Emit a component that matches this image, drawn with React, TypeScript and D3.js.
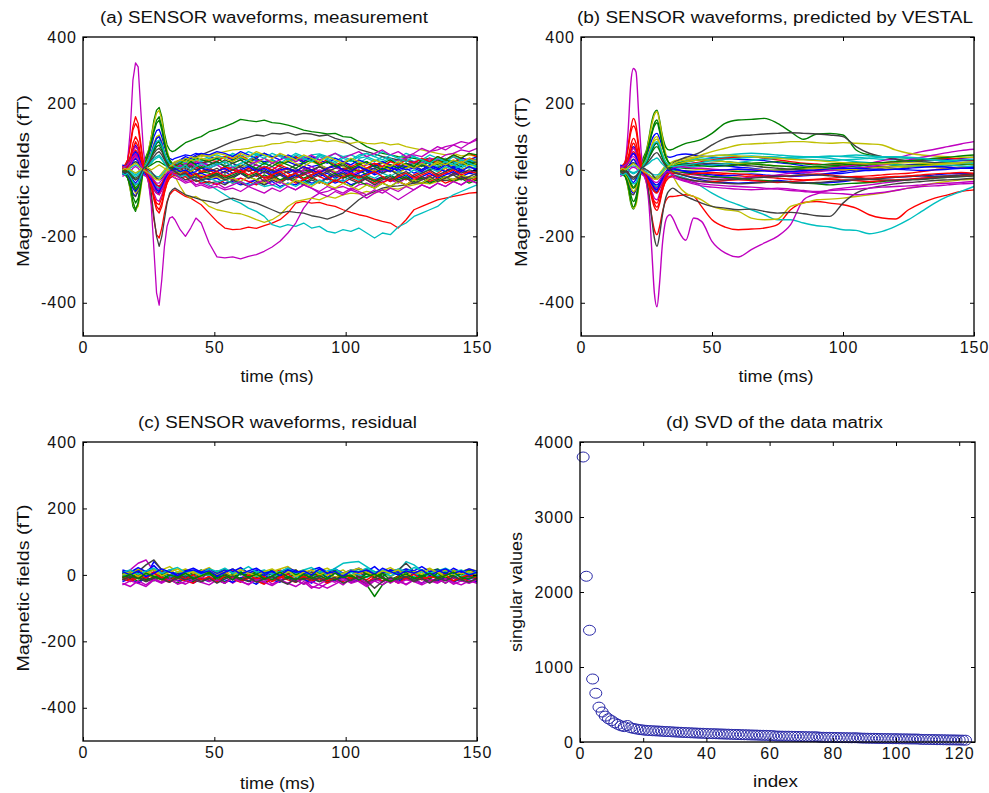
import React, { useEffect, useRef } from 'react';
import * as d3 from 'd3';

const FONT = '"Liberation Sans", Arial, Helvetica, sans-serif';
// MATLAB default colour order, cycled over the sensor channels
const lineColors = ['#0000ff', '#008000', '#ff0000', '#00bfbf', '#bf00bf', '#bfbf00', '#404040'];

// sample times (ms)
const timeMeasured = [15, 16, 17, 18, 19, 20, 21, 22, 23, 24, 25, 26, 27, 28, 29, 30, 31, 32, 33, 34, 35,
  37, 39, 41, 43, 45,
  48, 51, 54, 57, 60, 63, 66, 69, 72, 75, 78, 81, 84, 87, 90, 93, 96, 99, 102, 105, 108, 111, 114, 117,
  120, 123, 126, 129, 132, 135, 138, 141, 144, 147, 150];
const timePredicted = [15, 16, 17, 18, 19, 20, 21, 22, 23, 24, 25, 26, 27, 28, 29, 30, 31, 32, 33, 34, 35,
  37, 40, 43, 46, 50, 55, 60, 65, 70, 75, 80, 85, 90, 95, 100, 105, 110, 115, 120, 125, 130, 135, 140, 145, 150];
const timeResidual = [15, 18, 21, 24, 27, 30, 33, 36, 39, 42, 45, 48, 51, 54, 57, 60, 63, 66, 69, 72, 75, 78,
  81, 84, 87, 90, 93, 96, 99, 102, 105, 108, 111, 114, 117, 120, 123, 126, 129, 132, 135, 138, 141, 144, 147, 150];

// (a) measured sensor waveforms (fT), one row per channel
const measuredTraces: number[][] = [
  [0, -5, -15, -40, -70, -80, -65, -30, 0, 20, 40, 70, 100, 118, 122, 100, 70, 45, 35, 30, 35, 40, 45, 42, 50, 45, 40, 35, 40, 30, 35, 28, 30, 25, 30, 20, 25, 15, 20, 10, 15, 5, 10, 0, 5, -5, 0, 5, 10, 5, 15, 10, 20, 15, 25, 20, 30, 25, 35, 30, 40],
  [5, 0, -20, -60, -110, -125, -100, -40, 20, 40, 60, 100, 150, 180, 188, 160, 110, 75, 60, 55, 58, 70, 82, 88, 95, 100, 115, 122, 130, 140, 152, 148, 145, 150, 142, 140, 135, 128, 120, 115, 112, 108, 110, 100, 98, 85, 70, 60, 50, 45, 40, 38, 35, 30, 35, 28, 30, 25, 30, 22, 25],
  [0, 5, 30, 80, 130, 160, 140, 80, 20, -10, -40, -90, -150, -195, -205, -175, -130, -95, -75, -65, -60, -70, -80, -85, -95, -105, -130, -155, -175, -180, -178, -172, -176, -168, -160, -150, -130, -100, -95, -100, -98, -105, -110, -120, -128, -135, -140, -148, -155, -160, -175, -150, -120, -110, -100, -90, -85, -80, -75, -70, -68],
  [-5, -10, 0, 10, 20, 25, 20, 5, -5, -10, -20, -30, -40, -50, -55, -50, -40, -30, -20, -15, -10, -15, -20, -25, -30, -35, -45, -60, -75, -90, -100, -115, -125, -140, -165, -172, -165, -170, -160, -175, -170, -185, -190, -180, -185, -175, -190, -205, -190, -195, -172, -160, -140, -130, -120, -110, -90, -75, -65, -55, -45],
  [0, 5, 30, 120, 270, 322, 310, 180, 60, -10, -40, -110, -240, -370, -407, -330, -230, -170, -145, -141, -150, -180, -200, -175, -145, -160, -220, -262, -265, -262, -268, -260, -255, -245, -232, -215, -190, -160, -115, -85, -70, -65, -55, -50, -60, -45, -40, -50, -35, -30, -40, -25, -20, -30, -15, -20, -10, -15, -5, -10, -5],
  [-10, -5, -20, -60, -100, -120, -110, -60, 0, 30, 60, 100, 140, 170, 180, 150, 100, 60, 30, 10, -20, -50, -75, -85, -80, -90, -110, -120, -125, -130, -132, -140, -150, -158, -150, -135, -110, -95, -90, -85, -90, -80, -85, -75, -70, -72, -65, -70, -60, -55, -58, -50, -45, -40, -42, -35, -30, -35, -28, -25, -30],
  [-5, -10, -25, -50, -75, -80, -60, -20, 10, 5, -20, -70, -140, -200, -230, -200, -150, -100, -70, -60, -55, -65, -75, -80, -85, -90, -95, -100, -90, -85, -92, -95, -100, -110, -120, -130, -125, -128, -130, -138, -142, -148, -140, -130, -110, -90, -75, -65, -55, -50, -48, -45, -40, -38, -35, -30, -32, -28, -25, -22, -25],
  [5, 8, 15, 35, 60, 75, 62, 30, 5, -5, -15, -30, -50, -65, -70, -55, -35, -15, 0, 10, 15, 20, 15, 25, 18, 22, 15, 25, 10, 20, 5, 15, 0, 10, -5, 5, -10, 0, -15, -5, -20, -10, -25, -15, -5, -20, -10, 0, -10, 5, 0, 10, 5, 15, 10, 20, 15, 25, 20, 30, 25],
  [-5, -10, -20, -50, -95, -120, -100, -50, 0, 30, 55, 85, 120, 150, 160, 130, 85, 50, 30, 20, 15, 10, 5, 15, 0, 10, 5, -5, 10, 0, -10, 5, -5, 0, -15, -5, 5, -10, 0, -5, 10, 0, -10, 5, -5, 0, -15, -5, 5, 15, 5, 20, 10, 0, 15, 5, 20, 10, 25, 15, 20],
  [10, 15, 30, 70, 120, 140, 125, 70, 20, 0, -20, -50, -90, -120, -130, -110, -70, -40, -20, -10, -5, 0, 10, -5, 5, -10, 0, -15, -5, 10, -10, 0, -20, -5, -15, 5, -10, -25, -15, -5, -20, -30, -15, -25, -10, -20, -30, -40, -25, -35, -20, -30, -15, -5, -20, -10, 5, -10, 0, 10, 0],
  [-10, -5, 0, 5, 10, 15, 10, 5, 0, -5, -10, -15, -20, -25, -25, -20, -10, 0, 5, 10, 10, 15, 25, 20, 30, 25, 35, 30, 40, 45, 35, 40, 50, 42, 38, 45, 35, 40, 30, 45, 48, 40, 35, 25, 30, 20, 35, 25, 40, 30, 20, 35, 25, 15, 30, 20, 35, 25, 15, 30, 20],
  [0, 5, 10, 20, 40, 50, 40, 15, 0, -10, -25, -45, -70, -90, -95, -75, -50, -30, -15, -5, 0, -10, -5, -15, -10, -20, -15, -25, -20, -30, -25, -35, -30, -20, -25, -15, -20, -10, -5, -15, 0, -5, 5, 0, 10, 5, 15, 20, 10, 25, 30, 35, 45, 40, 55, 60, 70, 75, 85, 80, 95],
  [0, 5, 10, 20, 30, 35, 30, 10, -5, -10, -15, -20, -25, -25, -20, -10, 0, 10, 15, 20, 25, 30, 35, 30, 38, 40, 45, 50, 55, 60, 62, 65, 70, 72, 78, 80, 85, 82, 88, 85, 90, 85, 88, 82, 80, 85, 80, 78, 82, 75, 78, 70, 65, 60, 55, 50, 45, 50, 42, 45, 40],
  [5, 10, 20, 40, 60, 70, 60, 30, 5, -10, -20, -40, -60, -70, -72, -60, -40, -20, 0, 10, 20, 25, 30, 35, 40, 45, 55, 65, 75, 85, 92, 98, 105, 102, 110, 108, 112, 105, 110, 108, 102, 105, 95, 88, 75, 62, 55, 48, 40, 35, 30, 28, 25, 30, 22, 25, 20, 28, 22, 25, 20],
  [-15, -10, -5, -15, -30, -40, -30, -10, 5, 15, 25, 40, 60, 80, 85, 70, 45, 25, 15, 10, 5, -5, -15, -10, -25, -20, -30, -25, -40, -35, -45, -40, -30, -45, -35, -50, -40, -45, -30, -40, -35, -25, -40, -30, -45, -35, -25, -30, -20, -35, -25, -15, -30, -20, -10, -25, -15, -5, -20, -10, -15],
  [10, 5, 0, -20, -40, -55, -45, -20, 0, 15, 25, 40, 55, 70, 75, 60, 40, 20, 10, 5, 0, -5, -10, 0, -15, -5, -10, -20, -15, -25, -10, -20, -30, -15, -25, -35, -20, -30, -40, -25, -35, -45, -30, -40, -50, -35, -45, -55, -40, -50, -35, -45, -30, -40, -25, -35, -20, -30, -15, -25, -20],
  [-5, 0, 10, 25, 50, 60, 50, 20, 0, -10, -20, -35, -55, -70, -75, -60, -40, -25, -15, -10, -5, 5, 15, 10, 25, 20, 30, 25, 40, 35, 45, 30, 40, 50, 35, 45, 30, 40, 25, 35, 20, 30, 15, 25, 10, 20, 5, 15, 25, 10, 20, 30, 15, 25, 35, 20, 30, 40, 25, 35, 30],
  [5, 10, 5, 0, -10, -15, -10, 0, 5, 0, -5, -10, -15, -20, -20, -15, -5, 5, 10, 15, 20, 25, 20, 30, 35, 30, 40, 45, 35, 50, 40, 55, 45, 50, 40, 45, 35, 50, 40, 30, 45, 35, 25, 40, 30, 45, 50, 40, 55, 45, 35, 50, 40, 30, 45, 35, 25, 40, 30, 20, 35],
  [-20, -15, -10, -5, 5, 10, 5, -5, -15, -20, -25, -35, -50, -60, -65, -55, -40, -30, -25, -20, -25, -30, -40, -35, -50, -45, -55, -50, -60, -55, -65, -50, -60, -70, -55, -65, -50, -60, -45, -55, -65, -50, -60, -70, -55, -65, -75, -60, -70, -55, -65, -50, -60, -45, -55, -40, -50, -35, -45, -30, -40],
  [0, -5, -10, -25, -50, -60, -50, -20, 5, 15, 30, 50, 75, 95, 100, 80, 50, 25, 10, 0, -5, -10, 0, -5, 5, -5, 5, -5, 10, 0, 15, 5, -5, 10, 0, -10, 5, -5, 10, 0, -10, 5, -5, -15, 0, -10, 5, -5, 10, 0, -10, 5, 15, 0, 10, -5, 5, 15, 0, 10, 5],
  [5, 0, 5, 10, 20, 25, 20, 5, -5, -10, -20, -30, -45, -55, -60, -45, -30, -15, -5, 0, 5, 10, 5, 15, 10, 20, 25, 15, 30, 20, 10, 25, 15, 5, 20, 10, 0, 15, 5, -5, 10, 0, -10, 5, -5, 10, 0, 15, 5, -5, 10, 20, 5, 15, 0, 10, 20, 5, 15, 25, 10],
  [15, 10, 5, 10, 25, 35, 25, 5, -10, -15, -20, -25, -35, -45, -50, -40, -25, -10, 0, 5, 10, 0, -10, -5, -15, -10, -20, -15, -5, -20, -10, -25, -15, -5, -20, -10, -25, -15, -30, -20, -10, -25, -15, -5, -20, -10, 0, -15, -5, 10, -5, 5, -10, 0, 15, 5, -5, 10, 0, -10, 5],
  [-10, -15, -25, -45, -80, -100, -85, -40, 0, 25, 50, 80, 115, 140, 150, 120, 80, 45, 25, 15, 10, 20, 30, 25, 35, 30, 25, 35, 20, 30, 40, 25, 35, 20, 30, 15, 25, 35, 20, 30, 15, 25, 10, 20, 30, 15, 25, 10, 20, 30, 15, 5, 20, 10, 25, 15, 30, 20, 10, 25, 15],
  [0, 5, 15, 40, 80, 100, 85, 45, 10, -5, -20, -45, -80, -110, -120, -100, -65, -40, -25, -20, -15, -25, -20, -35, -30, -40, -35, -45, -30, -40, -25, -35, -45, -30, -20, -35, -25, -40, -30, -20, -35, -45, -30, -40, -25, -35, -20, -30, -40, -25, -35, -45, -30, -20, -35, -25, -40, -30, -20, -35, -25],
  [-5, 0, 5, 0, -5, -10, -5, 0, 5, 10, 15, 20, 30, 35, 40, 30, 20, 10, 5, 0, -5, 5, 10, 0, 15, 5, 10, 20, 15, 5, 20, 10, 25, 15, 30, 20, 35, 25, 40, 30, 45, 35, 50, 40, 45, 35, 40, 30, 25, 35, 20, 30, 15, 25, 20, 10, 25, 15, 5, 20, 10],
  [10, 5, 15, 30, 55, 70, 60, 30, 5, -5, -15, -30, -45, -55, -60, -50, -30, -15, -5, 0, 5, 15, 10, 20, 5, 15, 5, 15, 0, 10, -5, 5, 15, 0, 10, -5, 5, -10, 0, 10, -5, 5, -10, 0, -15, -5, 5, -10, 0, -5, 10, 15, 25, 20, 35, 30, 45, 50, 60, 55, 65],
  [-10, -5, -15, -30, -55, -70, -60, -25, 5, 20, 35, 55, 80, 100, 105, 85, 55, 30, 15, 10, 10, 20, 15, 30, 25, 35, 30, 40, 35, 25, 40, 30, 20, 35, 25, 15, 30, 20, 10, 25, 15, 5, 20, 10, 0, 15, 5, -5, 10, 0, -10, 5, 15, 0, 10, 20, 5, 15, 25, 10, 20],
  [0, -5, 0, -10, -20, -25, -20, -10, 0, 5, 0, -5, -15, -25, -30, -25, -15, -10, -5, -10, -15, -20, -30, -25, -35, -30, -40, -35, -45, -30, -40, -50, -35, -45, -30, -40, -25, -35, -45, -30, -40, -25, -35, -20, -30, -40, -25, -35, -20, -30, -15, -25, -35, -20, -30, -15, -25, -10, -20, -30, -15],
  [-5, -10, -15, -30, -55, -65, -55, -25, 0, 15, 30, 50, 75, 95, 100, 80, 50, 30, 20, 15, 20, 30, 40, 35, 45, 50, 45, 55, 50, 40, 55, 45, 35, 50, 40, 30, 45, 35, 25, 40, 30, 20, 35, 25, 15, 30, 20, 10, 25, 15, 5, 20, 10, 0, 15, 5, -5, 10, 0, -10, 5],
  [5, 0, -5, -10, -20, -30, -25, -10, 0, 5, 10, 15, 20, 25, 25, 20, 15, 10, 5, 0, -5, -15, -10, -20, -15, -25, -20, -10, -25, -15, -5, -20, -10, -25, -15, -30, -20, -10, -25, -15, -5, -20, -10, -25, -15, -30, -20, -35, -25, -15, -30, -20, -35, -25, -40, -30, -20, -35, -25, -40, -30],
  [10, 5, 10, 20, 35, 45, 40, 20, 5, 0, -10, -20, -35, -45, -50, -40, -25, -10, 0, 10, 15, 5, 15, 0, 10, -5, 5, -5, 10, 0, -10, 5, -5, 10, 0, 15, 5, -5, 10, 0, -10, 5, 15, 0, 10, -5, 5, 20, 10, 25, 15, 30, 20, 35, 25, 40, 30, 45, 35, 50, 40],
  [0, 5, 0, -5, -15, -20, -15, -5, 5, 10, 15, 25, 35, 40, 45, 35, 20, 10, 0, -5, -10, -20, -15, -25, -20, -30, -25, -35, -30, -40, -35, -45, -40, -50, -45, -55, -40, -50, -35, -45, -30, -40, -25, -35, -20, -30, -15, -25, -10, -20, -5, -15, 0, -10, 5, -5, 10, 0, 15, 5, 10],
  [-5, 0, 5, 15, 30, 40, 35, 15, 0, -10, -20, -35, -55, -70, -75, -60, -40, -20, -10, -5, 0, 10, 20, 15, 25, 20, 15, 25, 10, 20, 30, 15, 25, 35, 20, 30, 40, 25, 35, 45, 30, 40, 50, 35, 45, 55, 40, 50, 60, 45, 55, 40, 50, 65, 55, 70, 60, 75, 65, 80, 90],
  [5, 10, 5, 0, -5, -10, -5, 0, 5, 10, 5, 0, 5, 10, 15, 10, 5, 0, -5, 0, 5, 0, -10, -5, -20, -15, -25, -20, -30, -25, -35, -20, -30, -40, -25, -35, -45, -30, -40, -50, -35, -45, -55, -40, -50, -60, -45, -55, -40, -50, -35, -45, -30, -40, -25, -35, -20, -30, -15, -25, -20],
  [-10, -5, -10, -20, -35, -45, -40, -20, 0, 10, 20, 35, 50, 60, 65, 55, 35, 20, 10, 5, 0, 5, -5, 10, 0, 5, -5, 5, -10, 0, 10, -5, 5, -10, 0, -15, -5, 5, -10, 0, 10, -5, 5, 15, 0, 10, -5, 5, -10, 0, -15, -5, -20, -10, 0, -15, -5, 5, -10, 0, -5],
  [0, 5, 10, 25, 45, 55, 45, 20, 0, -10, -20, -30, -45, -60, -65, -50, -30, -15, -5, 0, 5, -5, 0, -10, -5, 5, 0, -5, 5, -10, 0, 10, -5, 5, -10, 0, 5, -5, 10, 0, -10, 5, 15, 0, -5, 10, 0, -10, 5, -5, 10, 0, 5, -5, 10, 0, 15, 5, -5, 10, 0],
  [-5, 0, -10, -25, -45, -60, -50, -20, 5, 15, 25, 45, 65, 80, 85, 70, 45, 25, 10, 5, 10, 20, 10, 25, 15, 5, 15, 25, 10, 20, 30, 15, 5, 20, 10, 25, 15, 5, 20, 30, 15, 25, 10, 20, 5, 15, 25, 10, 0, 15, 5, 20, 10, 30, 20, 40, 30, 45, 35, 50, 45],
  [5, 0, 10, 30, 65, 85, 70, 35, 5, -10, -25, -50, -80, -100, -105, -85, -55, -30, -15, -10, -10, -15, -5, -20, -10, -25, -15, -5, -20, -10, 0, -15, -5, -25, -15, -5, -20, -10, -30, -15, -5, -20, -35, -20, -10, -25, -15, -5, -20, -35, -20, -10, -25, -15, -5, -20, -10, 0, -15, -5, -10],
  [-10, -15, -10, -20, -35, -45, -40, -20, 0, 15, 30, 50, 70, 85, 90, 75, 50, 30, 20, 15, 10, 5, 15, 0, 10, 20, 5, 15, 25, 10, 20, 30, 45, 35, 50, 40, 30, 45, 35, 25, 40, 30, 20, 35, 25, 40, 50, 40, 30, 45, 35, 25, 40, 30, 20, 35, 25, 15, 30, 20, 10],
  [5, 10, 15, 25, 40, 45, 35, 15, 0, -5, -10, -20, -30, -40, -40, -30, -20, -10, -5, -10, -15, -25, -35, -30, -45, -40, -50, -40, -55, -45, -35, -50, -40, -30, -45, -35, -50, -60, -45, -55, -70, -80, -65, -75, -60, -70, -85, -70, -60, -75, -90, -75, -60, -45, -55, -40, -50, -35, -45, -30, -40],
  [0, 5, 0, 10, 15, 20, 15, 5, 0, -5, -10, -15, -25, -30, -30, -20, -10, 0, 10, 15, 20, 30, 25, 40, 35, 45, 40, 50, 45, 35, 50, 40, 55, 45, 35, 50, 40, 30, 45, 35, 25, 40, 30, 20, 35, 25, 15, 30, 20, 10, 25, 15, 5, 20, 10, 25, 15, 30, 20, 35, 25],
  [-5, -10, -5, -15, -25, -30, -25, -10, 5, 10, 20, 30, 40, 50, 55, 45, 30, 15, 5, 0, -5, -15, -10, -25, -20, -30, -25, -15, -30, -20, -10, -25, -15, -35, -25, -15, -30, -20, -10, -25, -15, -5, -20, -10, -25, -15, -30, -45, -30, -20, -35, -25, -40, -30, -20, -35, -25, -15, -30, -20, -10],
];

// (b) waveforms predicted by VESTAL (fT)
const predictedTraces: number[][] = [
  [0, -5, -15, -35, -60, -70, -60, -30, 0, 20, 40, 65, 90, 105, 110, 95, 70, 50, 40, 38, 40, 45, 48, 45, 42, 38, 35, 32, 30, 28, 22, 18, 12, 8, 5, 8, 12, 15, 18, 22, 25, 28, 30, 32, 35, 38],
  [5, 0, -20, -55, -100, -118, -95, -40, 15, 40, 60, 100, 145, 172, 180, 150, 105, 75, 62, 60, 62, 70, 80, 85, 92, 110, 140, 150, 152, 155, 140, 115, 92, 108, 110, 105, 60, 45, 40, 38, 35, 32, 30, 28, 28, 28],
  [0, 5, 25, 75, 125, 155, 135, 75, 20, -10, -40, -85, -140, -180, -195, -170, -130, -100, -85, -80, -80, -78, -75, -80, -110, -150, -172, -180, -178, -175, -165, -120, -98, -95, -100, -105, -115, -135, -145, -148, -120, -100, -85, -75, -65, -60],
  [-5, -8, 0, 8, 15, 20, 15, 5, -5, -10, -18, -28, -38, -45, -50, -45, -38, -30, -22, -18, -15, -18, -25, -35, -50, -70, -90, -105, -120, -135, -150, -150, -160, -168, -172, -180, -182, -192, -185, -170, -150, -125, -100, -80, -65, -50],
  [0, 5, 30, 120, 260, 305, 295, 170, 50, -15, -40, -110, -240, -370, -412, -340, -230, -165, -140, -135, -145, -180, -212, -145, -155, -215, -250, -262, -240, -220, -200, -165, -90, -72, -60, -55, -50, -45, -40, -35, -30, -25, -22, -18, -15, -12],
  [-10, -5, -20, -55, -95, -115, -105, -55, 0, 30, 55, 95, 135, 165, 175, 145, 100, 60, 30, 10, -15, -45, -70, -80, -90, -110, -120, -125, -145, -150, -148, -110, -100, -90, -88, -85, -80, -75, -70, -62, -55, -48, -40, -35, -30, -28],
  [-5, -10, -22, -45, -70, -75, -55, -20, 5, 0, -25, -75, -145, -205, -230, -195, -140, -95, -70, -60, -55, -65, -80, -90, -100, -110, -115, -120, -118, -125, -130, -128, -132, -138, -140, -100, -70, -55, -48, -42, -38, -35, -32, -30, -28, -25],
  [5, 8, 15, 30, 55, 70, 58, 28, 5, -5, -15, -28, -45, -60, -65, -50, -30, -12, 0, 8, 12, 15, 18, 20, 18, 15, 12, 8, 5, 0, -5, -10, -12, -15, -12, -10, -5, 0, 5, 10, 15, 18, 22, 25, 28, 30],
  [-5, -10, -20, -48, -90, -112, -95, -48, 0, 28, 52, 80, 112, 140, 150, 122, 80, 48, 28, 18, 12, 8, 5, 5, 2, 0, -2, -5, -5, -2, 0, 2, 5, 5, 8, 10, 12, 15, 18, 15, 12, 15, 18, 20, 22, 20],
  [10, 15, 28, 65, 112, 132, 118, 65, 18, 0, -20, -48, -85, -112, -122, -102, -65, -38, -18, -8, -5, 0, -5, -8, -10, -12, -15, -18, -20, -22, -25, -28, -30, -28, -25, -22, -20, -18, -15, -12, -10, -5, 0, 5, 8, 10],
  [-10, -5, 0, 5, 10, 12, 10, 5, 0, -5, -10, -15, -20, -22, -22, -18, -10, 0, 5, 10, 12, 18, 22, 28, 32, 35, 38, 40, 42, 40, 38, 35, 38, 40, 42, 40, 38, 35, 32, 30, 28, 25, 22, 20, 22, 25],
  [0, 5, 10, 20, 38, 48, 38, 15, 0, -10, -22, -42, -65, -85, -90, -72, -48, -28, -15, -5, 0, -5, -10, -15, -18, -22, -25, -25, -22, -20, -15, -10, -5, 0, 5, 10, 15, 20, 28, 35, 45, 55, 62, 70, 78, 85],
  [0, 5, 10, 18, 28, 32, 28, 10, -5, -10, -15, -20, -25, -25, -20, -10, 0, 10, 15, 20, 25, 30, 35, 38, 45, 55, 65, 75, 78, 80, 82, 85, 85, 82, 80, 82, 80, 78, 75, 60, 50, 45, 42, 40, 38, 38],
  [5, 10, 18, 38, 55, 65, 55, 28, 5, -10, -20, -38, -55, -65, -68, -55, -38, -20, 0, 10, 20, 28, 38, 45, 55, 75, 95, 102, 105, 108, 110, 112, 110, 108, 105, 100, 70, 50, 40, 32, 28, 25, 22, 20, 20, 18],
  [-15, -10, -5, -12, -28, -38, -28, -10, 5, 15, 25, 38, 55, 75, 80, 65, 42, 25, 15, 8, 0, -10, -18, -25, -30, -35, -38, -40, -38, -35, -32, -35, -38, -40, -38, -35, -30, -28, -25, -22, -20, -18, -15, -12, -10, -12],
  [10, 5, 0, -18, -38, -52, -42, -18, 0, 12, 22, 38, 52, 65, 70, 58, 38, 20, 10, 5, 0, -5, -8, -12, -15, -20, -22, -25, -30, -32, -35, -38, -40, -42, -45, -42, -40, -38, -35, -32, -30, -28, -25, -22, -20, -18],
  [-5, 0, 10, 22, 45, 55, 45, 18, 0, -10, -18, -32, -50, -65, -70, -55, -38, -22, -12, -5, 0, 8, 15, 20, 25, 30, 35, 38, 40, 35, 30, 25, 20, 18, 15, 15, 18, 20, 22, 25, 28, 30, 32, 35, 32, 30],
  [5, 8, 5, 0, -8, -12, -8, 0, 5, 0, -5, -8, -12, -15, -15, -12, -5, 5, 10, 15, 18, 22, 28, 32, 38, 42, 45, 48, 50, 48, 45, 42, 40, 38, 40, 42, 45, 42, 40, 38, 35, 32, 30, 28, 30, 32],
  [-20, -15, -10, -5, 5, 8, 5, -5, -12, -18, -22, -32, -45, -55, -60, -50, -38, -28, -22, -20, -22, -28, -35, -42, -48, -52, -55, -58, -60, -58, -55, -58, -62, -65, -62, -60, -58, -55, -52, -50, -48, -45, -42, -40, -38, -35],
  [0, -5, -10, -22, -45, -55, -45, -18, 5, 15, 28, 45, 70, 88, 92, 75, 48, 25, 10, 0, -5, -5, -2, 0, 2, 0, -2, 0, 2, 0, -2, 0, 2, 5, 2, 0, -2, 0, 2, 5, 8, 10, 8, 5, 8, 10],
  [5, 0, 5, 10, 18, 22, 18, 5, -5, -10, -18, -28, -40, -50, -55, -42, -28, -15, -5, 0, 5, 10, 12, 15, 18, 20, 18, 15, 12, 8, 5, 2, 0, -2, 0, 2, 5, 8, 10, 12, 15, 12, 10, 12, 15, 18],
  [15, 10, 5, 8, 22, 32, 22, 5, -8, -12, -18, -22, -32, -42, -45, -38, -22, -10, 0, 5, 8, 0, -5, -10, -12, -15, -18, -15, -12, -15, -18, -20, -18, -15, -10, -5, 0, -2, 0, 2, 0, -2, 0, 2, 5, 5],
  [-10, -15, -22, -42, -75, -95, -80, -38, 0, 22, 45, 75, 108, 132, 142, 115, 78, 45, 28, 18, 12, 20, 25, 28, 30, 28, 25, 22, 20, 22, 25, 20, 18, 15, 18, 20, 22, 20, 18, 15, 12, 15, 18, 20, 18, 15],
  [0, 5, 15, 38, 75, 95, 80, 42, 10, -5, -18, -42, -75, -102, -112, -95, -62, -40, -28, -22, -18, -22, -28, -32, -35, -35, -32, -30, -32, -35, -38, -35, -32, -30, -28, -30, -32, -35, -32, -30, -28, -25, -22, -20, -18, -15],
  [-5, 0, 5, 0, -5, -8, -5, 0, 5, 10, 15, 20, 28, 32, 36, 28, 18, 10, 5, 0, -2, 5, 8, 10, 12, 15, 18, 22, 28, 32, 35, 38, 40, 38, 35, 30, 25, 22, 18, 15, 12, 10, 12, 15, 12, 10],
  [10, 5, 12, 28, 50, 65, 55, 28, 5, -5, -15, -28, -42, -52, -56, -45, -28, -15, -5, 0, 5, 10, 8, 5, 5, 2, 0, 2, 0, -2, -5, -5, -8, -5, -2, 0, 5, 10, 15, 22, 30, 38, 45, 52, 58, 62],
  [-10, -5, -15, -28, -52, -65, -55, -22, 5, 18, 32, 52, 75, 95, 100, 80, 52, 30, 15, 10, 12, 18, 25, 28, 30, 28, 25, 20, 18, 15, 12, 10, 8, 5, 2, 0, 2, 5, 8, 10, 12, 12, 15, 18, 20, 18],
  [0, -5, 0, -8, -18, -22, -18, -8, 0, 5, 0, -5, -12, -22, -28, -22, -15, -10, -8, -10, -15, -22, -28, -32, -35, -38, -40, -42, -40, -38, -35, -38, -40, -38, -35, -32, -30, -28, -25, -22, -20, -18, -20, -18, -15, -12],
  [0, 5, 10, 22, 40, 50, 40, 18, 0, -8, -18, -28, -42, -55, -60, -45, -28, -12, -5, 0, 3, 0, -3, -5, -5, -2, 0, 2, 0, -3, -5, -5, -2, 0, 3, 5, 5, 3, 0, 2, 5, 8, 10, 8, 5, 8],
  [-5, 0, -10, -22, -42, -55, -45, -18, 5, 15, 25, 42, 60, 75, 80, 65, 42, 22, 10, 5, 10, 15, 18, 15, 12, 10, 12, 15, 18, 15, 12, 10, 8, 10, 12, 15, 18, 20, 22, 25, 28, 30, 35, 38, 42, 45],
  [5, 0, 10, 28, 60, 80, 65, 32, 5, -10, -22, -48, -75, -95, -100, -80, -52, -30, -15, -10, -10, -12, -15, -12, -10, -8, -10, -12, -15, -18, -20, -18, -15, -12, -15, -20, -22, -25, -22, -20, -18, -15, -12, -10, -8, -10],
  [-10, -15, -10, -18, -32, -42, -38, -18, 0, 15, 28, 48, 66, 80, 85, 70, 48, 28, 18, 12, 10, 12, 15, 18, 22, 28, 32, 35, 38, 40, 38, 35, 32, 30, 28, 30, 32, 35, 38, 40, 38, 35, 30, 25, 22, 20],
  [5, 10, 15, 22, 35, 40, 32, 14, 0, -5, -10, -18, -28, -36, -38, -30, -20, -10, -5, -10, -15, -25, -32, -38, -42, -45, -48, -50, -52, -55, -58, -62, -65, -68, -70, -72, -75, -72, -68, -62, -55, -50, -48, -45, -42, -40],
  [0, 5, 0, 8, 14, 18, 14, 5, 0, -5, -10, -15, -22, -28, -28, -20, -10, 0, 8, 14, 18, 25, 30, 35, 40, 42, 45, 42, 40, 38, 35, 32, 30, 28, 25, 22, 20, 18, 18, 20, 22, 20, 18, 20, 22, 25],
  [-5, -10, -5, -12, -22, -28, -22, -10, 5, 10, 18, 28, 38, 48, 52, 42, 28, 15, 5, 0, -5, -12, -18, -22, -25, -28, -30, -28, -25, -22, -20, -18, -15, -15, -18, -22, -25, -28, -30, -32, -30, -28, -25, -22, -20, -18],
];

// (c) residual waveforms (fT)
const residualTraces: number[][] = [
  [5, -10, 8, -5, 40, 15, -8, 5, -12, 10, -5, 12, -8, 5, -15, 8, -5, 10, -10, 5, -8, 12, -5, 8, -12, 5, -8, 10, -5, 12, -10, 5, -8, 10, -5, 8, -12, 5, -8, 10, -5, 12, -8, 5, -10, 8],
  [-15, -5, -20, -8, -18, -5, -15, -25, -10, -20, -8, -18, -5, -22, -12, -20, -8, -15, -25, -10, -18, -5, -15, -28, -12, -20, -10, -18, -8, -22, -15, -30, -65, -30, -15, -22, -10, -18, -8, -20, -12, -25, -10, -18, -8, -15],
  [10, 5, 15, 0, 8, 12, -2, 8, 15, 3, 10, -5, 12, 5, 15, 0, 10, -3, 12, 5, 15, 2, 10, -5, 8, 14, 0, 10, 5, 15, 2, 12, -2, 8, 14, 0, 10, 5, 15, 3, 12, -2, 10, 5, 15, 8],
  [-5, 5, -10, 2, -8, 5, -3, 10, -5, 3, -8, 5, -2, 8, -5, 3, -8, 5, -3, 10, -2, 5, -8, 3, 8, 2, 5, 20, 35, 38, 40, 25, 10, -5, 5, 10, 40, 30, 12, 5, -3, 8, -5, 10, 2, 5],
  [0, 15, 35, 45, 10, -10, -20, -5, 10, -15, -8, 5, -18, -5, -25, -10, 5, -20, -8, -28, -15, -5, -22, -12, -35, -40, -25, -15, -30, -10, -20, -35, -18, -8, -25, -12, -30, -15, -5, -20, -10, -25, -8, -18, -5, -15],
  [8, -5, 12, 0, -8, 5, 15, -2, 8, -10, 3, 12, -5, 8, 18, 0, 10, -8, 5, 12, -3, 8, 15, 0, -5, 10, -2, 12, 5, -8, 3, 15, 0, 10, -5, 8, 18, 2, 12, -3, 10, 0, 15, 5, -5, 8],
  [-10, 0, 10, 30, 45, 15, -5, 8, -12, 3, -8, 10, -3, 5, -10, 8, -5, 12, -2, 5, -10, 3, 15, -5, 8, -3, 10, -8, 5, 12, -5, 8, -10, 3, 15, 15, 35, 10, -5, 8, -8, 5, -3, 10, -5, 3],
  [-20, -12, -25, -8, -15, -22, -5, -18, -10, -25, -12, -20, -5, -15, -22, -8, -18, -28, -10, -15, -22, -5, -18, -12, -25, -8, -20, -15, -5, -22, -12, -25, -8, -18, -10, -20, -5, -15, -25, -12, -18, -8, -22, -10, -15, -20],
  [5, 12, -3, 8, 15, 0, 10, -5, 12, 3, 15, -2, 8, 18, 5, 10, -3, 12, 2, 15, 5, 18, 0, 10, -3, 12, 5, 15, -2, 8, 18, 3, 10, -5, 12, 2, 15, 8, -3, 10, 18, 5, 12, 0, 15, 10],
  [-12, -20, -8, -18, -5, -15, -22, -10, -18, -25, -8, -15, -20, -5, -12, -22, -10, -18, -28, -12, -5, -15, -22, -8, -18, -12, -25, -10, -20, -5, -15, -22, -8, -18, -12, -25, -10, -20, -5, -15, -22, -12, -18, -8, -20, -15],
  [0, 8, -5, 12, -3, 5, -8, 10, 0, -5, 8, -3, 12, -8, 5, 0, 10, -5, 8, -10, 3, 12, -5, 8, 0, -8, 5, 10, -3, 8, 0, -8, 5, 12, -3, 8, 0, -5, 10, -8, 5, 12, 0, -5, 8, 3],
  [-25, -35, -18, -30, -12, -22, -8, -18, -28, -15, -5, -20, -12, -25, -8, -18, -30, -12, -20, -5, -15, -25, -35, -20, -40, -28, -15, -22, -10, -25, -18, -30, -12, -22, -8, -20, -28, -15, -25, -10, -22, -12, -28, -18, -25, -15],
  [12, 5, 18, 8, -2, 15, 25, 8, 18, 5, 12, 22, 3, 15, 8, 20, 5, 12, -3, 10, 18, 25, 8, 15, 2, 12, 20, 5, 15, -3, 10, 18, 5, 12, 22, 8, 15, 3, 12, 20, 5, 15, -2, 10, 18, 12],
  [-8, -15, -3, -20, -10, -5, -18, -12, -3, -15, -22, -8, -15, -25, -5, -12, -20, -8, -15, -3, -18, -10, -22, -5, -15, -8, -20, -12, -3, -18, -10, -25, -15, -5, -20, -12, -3, -18, -8, -22, -15, -5, -20, -10, -3, -12],
  [15, 8, 22, 10, 28, 5, 15, -2, 12, 20, 8, 18, 3, 15, 10, 22, 5, 15, -3, 12, 8, 20, 12, 3, 15, 22, 8, 18, 5, 12, 20, 10, 25, 5, 15, 8, 18, 12, 25, 10, 15, 3, 20, 8, 18, 10],
  [-3, -10, 5, -15, -8, 2, -12, -5, 8, -10, -2, 5, -15, -8, 3, -12, -3, 8, -8, -15, 0, -10, 5, -12, -3, 8, -8, -15, 2, -5, -12, 3, -8, 5, -15, -3, 8, -10, 0, -12, 5, -8, -2, -15, 3, -5],
  [-5, -15, 0, -10, 5, -8, -18, -2, -12, 0, -15, -5, -20, -2, -10, -18, 0, -12, -5, -20, -8, 2, -15, -5, -12, 0, -18, -8, 2, -12, -5, -15, 0, -10, -20, -5, -12, 2, -15, -5, -10, 0, -18, -8, 2, -10],
  [8, 15, 2, 12, 20, 5, 15, 22, 8, 12, 2, 18, 10, 20, 5, 12, 25, 8, 15, 2, 10, 20, 5, 15, 22, 8, 12, 18, 2, 15, 10, 20, 8, 15, 5, 18, 10, 22, 15, 5, 12, 20, 8, 15, 2, 10],
  [-30, -18, -25, -35, -15, -25, -12, -28, -20, -8, -22, -30, -15, -25, -10, -20, -28, -15, -22, -32, -18, -25, -12, -28, -20, -30, -40, -28, -15, -22, -10, -25, -18, -30, -12, -25, -15, -20, -30, -18, -25, -12, -22, -30, -18, -25],
  [0, 10, -5, 5, 15, -3, 8, 18, 2, 10, -5, 12, 0, 8, -3, 15, 5, -2, 10, 18, 3, 12, -5, 8, 15, 0, 10, -8, 5, 12, 20, 8, -2, 12, 5, 15, -3, 10, 2, 18, 8, -5, 12, 3, 10, 0],
  [-15, -5, -10, -20, -8, -12, -22, -5, -15, -8, -20, -10, -25, -12, -3, -15, -8, -22, -12, -5, -18, -28, -10, -15, -5, -20, -12, -8, -25, -15, -5, -18, -40, -20, -8, -15, -5, -20, -12, -25, -8, -18, -5, -15, -22, -10],
  [10, 0, 12, -5, 5, 18, 8, -2, 10, 15, 5, 12, -3, 8, 18, 2, 12, 20, 5, 10, -2, 15, 8, 12, 0, 18, 5, 10, -5, 12, 8, 15, 2, 20, 10, 0, 12, 5, 15, -2, 10, 18, 5, 12, 0, 8],
  [-8, 2, -12, 5, -5, -15, 0, -8, 5, -12, -3, 8, -10, 0, -15, 5, -8, 2, -12, -3, 8, -5, -15, 2, -10, -3, -12, 5, -8, 0, -15, -5, 2, -10, -20, -8, 3, -12, -5, 5, -10, -2, 8, -8, -12, 0],
];

// (d) singular values of the data matrix, by index 1..122
const singularValues = [
  3800, 2210, 1490, 840, 650, 465, 400, 345, 310, 285, 255, 235, 215, 205, 220, 190, 180, 172, 165, 160,
  155, 153, 150, 148, 146, 143, 140, 139, 136, 133,
  131, 129, 127, 125, 123, 121, 119, 117, 116, 114,
  112, 111, 110, 108, 107, 105, 104, 102, 101, 100,
  98, 97, 96, 94, 93, 92, 90, 89, 88, 87,
  85, 80, 79, 78, 77, 77, 76, 75, 74, 73,
  72, 71, 70, 70, 69, 64, 63, 62, 62, 61,
  60, 59, 58, 58, 57, 56, 57, 55, 52, 51,
  50, 49, 49, 48, 47, 46, 46, 45, 44, 44,
  43, 42, 42, 41, 40, 40, 39, 35, 34, 34,
  33, 32, 31, 31, 30, 29, 28, 28, 27, 26, 25, 24,
];

const waveXTicks = [0, 50, 100, 150];
const waveYTicks = [-400, -200, 0, 200, 400];
const svdXTicks = [0, 20, 40, 60, 80, 100, 120];
const svdYTicks = [0, 1000, 2000, 3000, 4000];

const W = 989;
const H = 793;

function drawAxes(g: any, x: any, y: any, w: number, h: number, xTicks: number[], yTicks: number[]) {
  const fmt = (d: any) => String(d);
  const style = (s: any) => {
    s.select('.domain').remove();
    s.attr('font-family', FONT).attr('font-size', 16);
    s.selectAll('text').attr('fill', '#111').style('letter-spacing', '1px');
    s.selectAll('line').attr('stroke', '#000').attr('stroke-width', 1);
  };
  g.append('g').attr('transform', `translate(0,${h})`)
    .call(d3.axisBottom(x).tickValues(xTicks).tickSize(-4).tickPadding(6).tickFormat(fmt)).call(style);
  g.append('g')
    .call(d3.axisTop(x).tickValues(xTicks).tickSize(-4).tickFormat(() => '')).call(style);
  g.append('g')
    .call(d3.axisLeft(y).tickValues(yTicks).tickSize(-4).tickPadding(6).tickFormat(fmt)).call(style);
  g.append('g').attr('transform', `translate(${w},0)`)
    .call(d3.axisRight(y).tickValues(yTicks).tickSize(-4).tickFormat(() => '')).call(style);
  g.append('rect')
    .attr('width', w).attr('height', h)
    .attr('fill', 'none').attr('stroke', '#000').attr('stroke-width', 1.3);
}

function addText(svg: any, text: string, x: number, y: number, len: number, rotate = false) {
  const t = svg.append('text')
    .attr('text-anchor', 'middle')
    .attr('font-family', FONT)
    .attr('font-size', 16)
    .attr('fill', '#111')
    .attr('textLength', len)
    .attr('lengthAdjust', 'spacingAndGlyphs')
    .text(text);
  if (rotate) t.attr('transform', `translate(${x},${y}) rotate(-90)`);
  else t.attr('x', x).attr('y', y);
}

export default function App() {
  const svgRef = useRef<SVGSVGElement>(null);

  useEffect(() => {
    const svg = d3.select(svgRef.current);
    svg.selectAll('*').remove();
    svg.append('rect').attr('width', W).attr('height', H).attr('fill', '#fff');

    const wavePanels = [
      { left: 83, top: 37, w: 394, h: 299, times: timeMeasured, traces: measuredTraces, curve: d3.curveLinear, sw: 1.3 },
      { left: 581, top: 37, w: 393, h: 299, times: timePredicted, traces: predictedTraces, curve: d3.curveMonotoneX, sw: 1.4 },
      { left: 83, top: 442, w: 394, h: 299, times: timeResidual, traces: residualTraces, curve: d3.curveLinear, sw: 1.5 },
    ];

    wavePanels.forEach(p => {
      const g = svg.append('g').attr('transform', `translate(${p.left},${p.top})`);
      const x = d3.scaleLinear().domain([0, 150]).range([0, p.w]);
      const y = d3.scaleLinear().domain([-500, 400]).range([p.h, 0]);
      const line = d3.line<number>()
        .x((_, i) => x(p.times[i]))
        .y(v => y(v))
        .curve(p.curve);
      p.traces.forEach((tr, i) => {
        g.append('path')
          .datum(tr)
          .attr('fill', 'none')
          .attr('stroke', lineColors[i % lineColors.length])
          .attr('stroke-width', p.sw)
          .attr('stroke-linejoin', 'round')
          .attr('d', line);
      });
      drawAxes(g, x, y, p.w, p.h, waveXTicks, waveYTicks);
    });

    // (d) SVD scatter
    {
      const w = 395, h = 300;
      const g = svg.append('g').attr('transform', `translate(580,442)`);
      const x = d3.scaleLinear().domain([0, 125]).range([0, w]);
      const y = d3.scaleLinear().domain([0, 4000]).range([h, 0]);
      g.selectAll('ellipse.sv')
        .data(singularValues)
        .enter()
        .append('ellipse')
        .attr('class', 'sv')
        .attr('cx', (_, i) => x(i + 1))
        .attr('cy', d => y(d))
        .attr('rx', 6)
        .attr('ry', 5)
        .attr('fill', 'none')
        .attr('stroke', '#2a2aa8')
        .attr('stroke-width', 1);
      drawAxes(g, x, y, w, h, svdXTicks, svdYTicks);
    }

    // titles and axis labels
    addText(svg, '(a) SENSOR waveforms, measurement', 264, 23, 328);
    addText(svg, '(b) SENSOR waveforms, predicted by VESTAL', 775, 23, 396);
    addText(svg, '(c) SENSOR waveforms, residual', 277.5, 428, 279);
    addText(svg, '(d) SVD of the data matrix', 774.5, 428, 217);

    addText(svg, 'time (ms)', 277, 382, 73);
    addText(svg, 'time (ms)', 776, 382, 75);
    addText(svg, 'time (ms)', 277.5, 789, 75);
    addText(svg, 'index', 775.5, 787, 45);

    addText(svg, 'Magnetic fields (fT)', 28.5, 181, 172, true);
    addText(svg, 'Magnetic fields (fT)', 526.5, 182, 170, true);
    addText(svg, 'Magnetic fields (fT)', 28.5, 588, 167, true);
    addText(svg, 'singular values', 521.5, 592, 120, true);
  }, []);

  return (
    <svg
      ref={svgRef}
      width={W}
      height={H}
      style={{ position: 'absolute', left: 0, top: 0, fontFamily: FONT }}
    />
  );
}
